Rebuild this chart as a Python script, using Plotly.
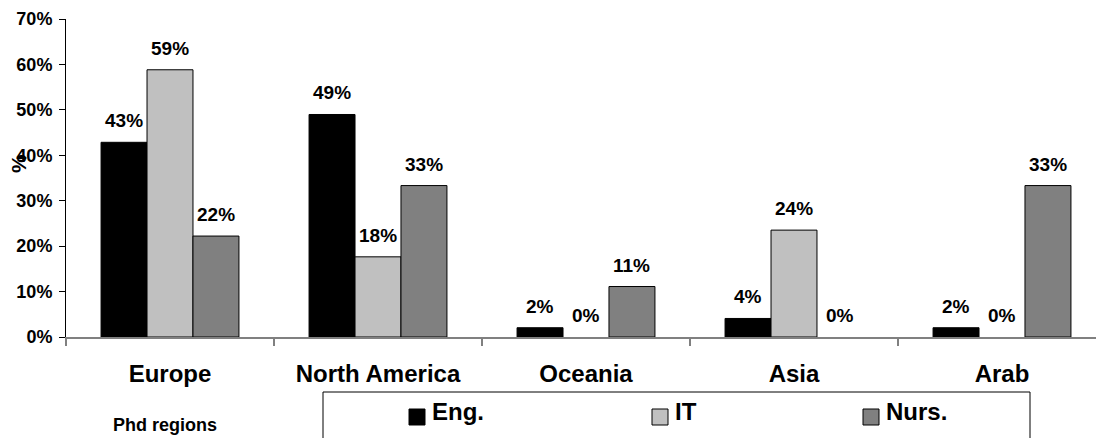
import plotly.graph_objects as go

# PhD graduates by region, share of each programme (%)
regions = ["Europe", "North America", "Oceania", "Asia", "Arab"]
series_names = ["Eng.", "IT", "Nurs."]
eng = [21 / 49 * 100, 24 / 49 * 100, 1 / 49 * 100, 2 / 49 * 100, 1 / 49 * 100]
it = [10 / 17 * 100, 3 / 17 * 100, 0.0, 4 / 17 * 100, 0.0]
nurs = [2 / 9 * 100, 3 / 9 * 100, 1 / 9 * 100, 0.0, 3 / 9 * 100]
y_ticks = [0, 10, 20, 30, 40, 50, 60, 70]
y_tick_labels = ["0%", "10%", "20%", "30%", "40%", "50%", "60%", "70%"]

series_values = [eng, it, nurs]
colors = ["#000000", "#C0C0C0", "#808080"]

FONT = "Arial, 'Liberation Sans', sans-serif"
W, H = 1096, 438
L, R, T, B = 66, 0, 19, 101
plot_w = W - L - R
plot_h = H - T - B
cat_px = 208.0          # width of one category slot in pixels
x_end = -0.5 + plot_w / cat_px


def px_x(p):
    return (p - L) / plot_w


def px_y(p):
    return (H - B - p) / plot_h


fig = go.Figure()
for name, vals, col in zip(series_names, series_values, colors):
    fig.add_trace(go.Bar(
        x=regions, y=vals, name=name,
        marker=dict(color=col,
                    line=dict(color="#000000",
                              width=[1 if v > 0 else 0 for v in vals])),
        showlegend=False,
    ))

# value labels above each bar
bar_w = cat_px * (1 - 0.337) / 3
annotations = []
for k, vals in enumerate(series_values):
    for j, v in enumerate(vals):
        annotations.append(dict(
            x=regions[j], y=v, xref="x", yref="y",
            text=f"{v:.0f}%", showarrow=False,
            xanchor="center", yanchor="bottom",
            xshift=(k - 1) * bar_w, yshift=9,
            font=dict(family=FONT, size=19, color="#000000", weight="bold"),
        ))

# y-axis title
annotations.append(dict(
    x=px_x(18), y=px_y(164), xref="paper", yref="paper",
    text="%", textangle=-90, showarrow=False,
    xanchor="center", yanchor="middle",
    font=dict(family=FONT, size=21, color="#000000", weight="bold"),
))

# x-axis caption
annotations.append(dict(
    x=px_x(165), y=px_y(425), xref="paper", yref="paper",
    text="Phd regions", showarrow=False,
    xanchor="center", yanchor="middle",
    font=dict(family=FONT, size=18, color="#000000", weight="bold"),
))

# legend box
shapes = [dict(
    type="rect", xref="paper", yref="paper",
    x0=px_x(323), x1=px_x(1030), y0=px_y(460), y1=px_y(392),
    line=dict(color="#000000", width=1), fillcolor="rgba(0,0,0,0)",
    layer="above",
)]
legend_sq_x = [409, 652, 863]
for name, col, sx in zip(series_names, colors, legend_sq_x):
    shapes.append(dict(
        type="rect", xref="paper", yref="paper",
        x0=px_x(sx), x1=px_x(sx + 16), y0=px_y(425), y1=px_y(409),
        line=dict(color="#000000", width=1), fillcolor=col, layer="above",
    ))
    annotations.append(dict(
        x=px_x(sx + 21), y=px_y(411), xref="paper", yref="paper",
        text=name, showarrow=False, xanchor="left", yanchor="middle",
        font=dict(family=FONT, size=24, color="#000000", weight="bold"),
    ))

fig.update_layout(
    width=W, height=H,
    margin=dict(l=L, r=R, t=T, b=B, pad=0),
    paper_bgcolor="#FFFFFF", plot_bgcolor="#FFFFFF",
    barmode="group", bargap=0.337, bargroupgap=0,
    showlegend=False,
    annotations=annotations, shapes=shapes,
    font=dict(family=FONT, color="#000000"),
)
fig.update_xaxes(
    type="category", range=[-0.5, x_end],
    showline=True, linecolor="#808080", linewidth=1.5,
    ticks="outside", tickson="boundaries", ticklen=7, tickcolor="#808080",
    tickwidth=1.5, showgrid=False, zeroline=False,
    tickfont=dict(family=FONT, size=24, color="#000000", weight="bold"),
    ticklabelstandoff=14,
)
fig.update_yaxes(
    range=[0, 70], tickmode="array", tickvals=y_ticks, ticktext=y_tick_labels,
    showline=True, linecolor="#000000", linewidth=1,
    ticks="outside", ticklen=6, tickcolor="#000000",
    showgrid=False, zeroline=False,
    tickfont=dict(family=FONT, size=18, color="#000000", weight="bold"),
    ticklabelstandoff=3,
)

fig.write_html("out.html")
